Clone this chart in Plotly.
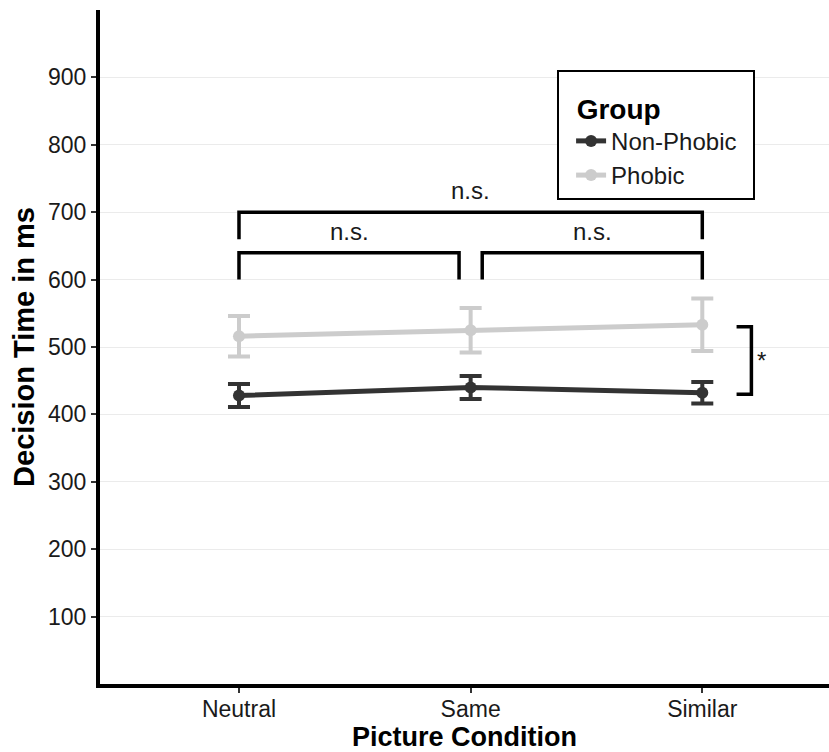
import plotly.graph_objects as go

categories = ["Neutral", "Same", "Similar"]
nonphobic_mean = [428, 440, 432]
nonphobic_se = [17, 17, 16]
phobic_mean = [516, 525, 533]
phobic_se = [30, 33, 39]

# significance brackets: (start index, end index, level, label)
brackets = [(0, 2, 700, "n.s."), (0, 0.95, 640, "n.s."), (1.05, 2, 640, "n.s.")]
bracket_drop = 40
group_bracket = (430, 530, "*")

FONT = "Liberation Sans, Arial, sans-serif"

fig = go.Figure()
fig.add_trace(go.Scatter(
    x=categories, y=nonphobic_mean, name="Non-Phobic", mode="lines+markers",
    line=dict(color="#333333", width=5), marker=dict(size=12, color="#333333"),
    error_y=dict(type="data", array=nonphobic_se, color="#333333", thickness=4, width=11),
))
fig.add_trace(go.Scatter(
    x=categories, y=phobic_mean, name="Phobic", mode="lines+markers",
    line=dict(color="#cccccc", width=5), marker=dict(size=12, color="#cccccc"),
    error_y=dict(type="data", array=phobic_se, color="#cccccc", thickness=4, width=11),
))

shapes = []
annotations = []
for x0, x1, lvl, lab in brackets:
    shapes.append(dict(type="path", xref="x", yref="y",
                       path=f"M {x0},{lvl - bracket_drop} L {x0},{lvl} L {x1},{lvl} L {x1},{lvl - bracket_drop}",
                       line=dict(color="black", width=3.5)))
    annotations.append(dict(x=(x0 + x1) / 2, y=lvl, xref="x", yref="y", text=lab,
                            showarrow=False, yanchor="bottom", yshift=6,
                            font=dict(family=FONT, size=24, color="#1a1a1a")))
lo, hi, lab = group_bracket
shapes.append(dict(type="path", xref="x", yref="y",
                   path=f"M 2.148,{hi} L 2.212,{hi} L 2.212,{lo} L 2.148,{lo}",
                   line=dict(color="black", width=3.5)))
annotations.append(dict(x=2.228, y=(lo + hi) / 2, xref="x", yref="y", text=lab,
                        showarrow=False, xanchor="left", yanchor="middle",
                        font=dict(family=FONT, size=24, color="#1a1a1a")))

legend_title = ("<span style='font-size:28px'>&nbsp;&nbsp;<b>Group</b></span>"
                + "&nbsp;" * 9)

fig.update_layout(
    width=829, height=752,
    margin=dict(l=100, r=0, t=10, b=68),
    plot_bgcolor="white", paper_bgcolor="white",
    font=dict(family=FONT, size=23, color="#1a1a1a"),
    shapes=shapes, annotations=annotations,
    legend=dict(
        x=0.627, y=0.911, xanchor="left", yanchor="top",
        bordercolor="black", borderwidth=2, bgcolor="white",
        title=dict(text=legend_title, font=dict(family=FONT, size=36, color="black")),
        font=dict(family=FONT, size=24, color="#1a1a1a"),
        tracegroupgap=0, itemwidth=30, indentation=12,
    ),
    xaxis=dict(
        type="category", range=[-0.6, 2.547], automargin=False,
        showline=True, linecolor="black", linewidth=4,
        ticks="outside", ticklen=5, tickwidth=2, tickcolor="#333333",
        showgrid=False, zeroline=False, ticklabelstandoff=-4,
        tickfont=dict(family=FONT, size=23, color="#1a1a1a"),
        title=dict(text="<b>Picture Condition</b>", font=dict(family=FONT, size=27, color="black"), standoff=5),
    ),
    yaxis=dict(
        range=[0, 1000], tickvals=[100, 200, 300, 400, 500, 600, 700, 800, 900], automargin=False,
        showline=True, linecolor="black", linewidth=4,
        ticks="outside", ticklen=5, tickwidth=2, tickcolor="#333333",
        showgrid=True, gridcolor="#ebebeb", gridwidth=1, zeroline=False,
        tickfont=dict(family=FONT, size=23, color="#1a1a1a"),
        title=dict(text="<b>Decision Time in ms</b>", font=dict(family=FONT, size=29, color="black"), standoff=6),
    ),
)

fig.write_html("out.html", config={"displayModeBar": False},
               post_script="document.body.style.margin='0';document.body.style.overflow='hidden';")
